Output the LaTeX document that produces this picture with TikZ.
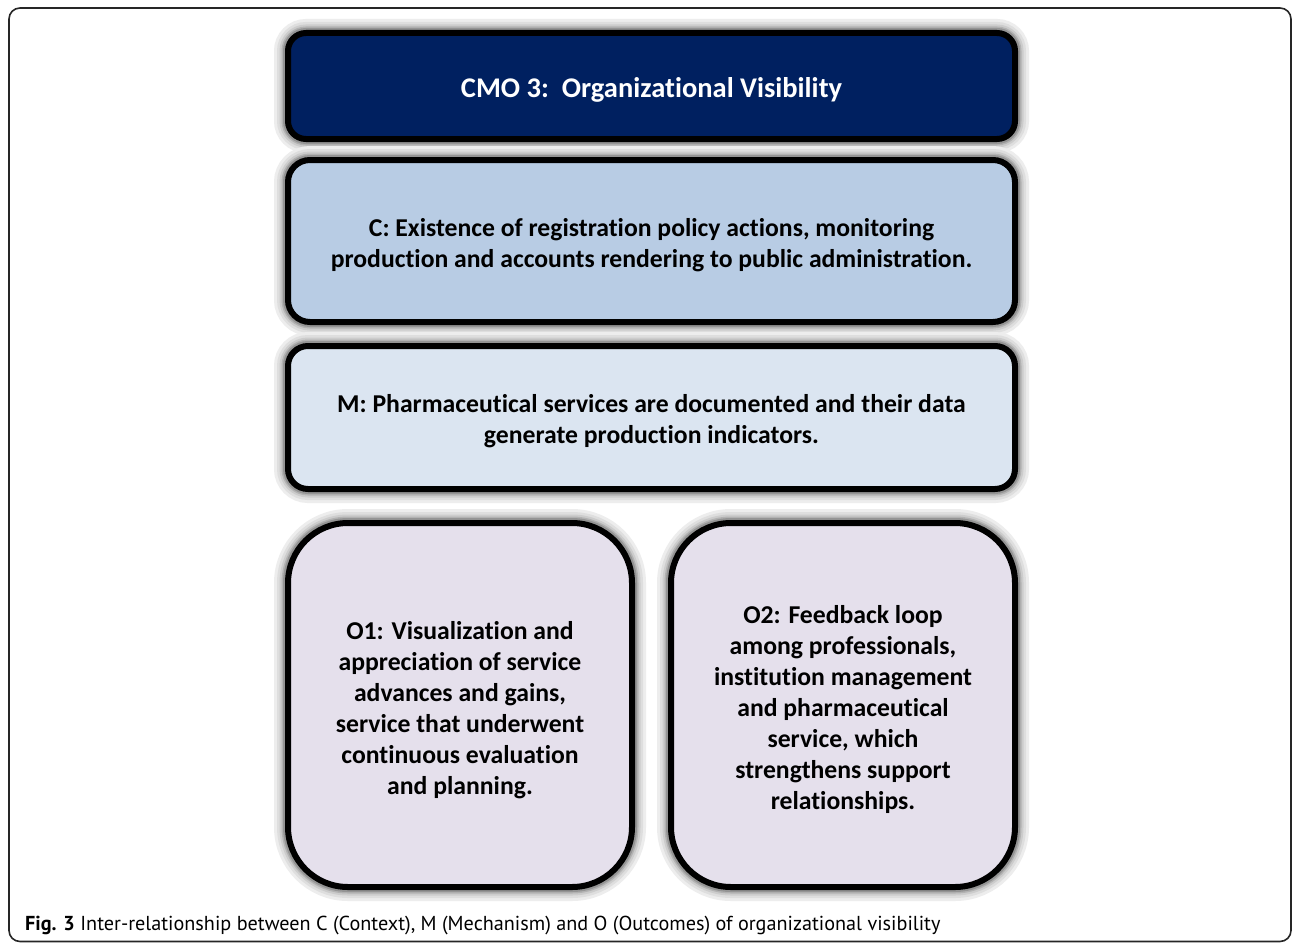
\documentclass[tikz,border=0pt]{standalone}
\usepackage{fontspec}
\setmainfont{Carlito}[Ligatures=NoCommon]
\newfontfamily\capfont{PT Sans}
\begin{document}
\begin{tikzpicture}[x=1pt,y=-1pt,
  glow/.style={
    preaction={draw=black!7,line width=28pt},
    preaction={draw=black!13,line width=22pt},
    preaction={draw=black!20,line width=17pt},
    preaction={draw=black!30,line width=13pt},
    preaction={draw=black!42,line width=10pt}},
  cmobox/.style={glow,draw=black,line width=6pt,rectangle,inner sep=0pt,outer sep=0pt},
  txt/.style={align=center,font=\bfseries\fontsize{25.7}{31}\selectfont,inner sep=0pt}]
\useasboundingbox (0,0) rectangle (1292,942);
\fill[white] (0,0) rectangle (1292,942);
\draw[line width=1.6pt,black!85,rounded corners=11pt] (9,8) -- (1291,8) -- (1291,941.5) -- (9,941.5) -- cycle;

\node[cmobox,fill={rgb,255:red,0;green,32;blue,96},rounded corners=18pt,minimum width=727pt,minimum height=106pt] (cmo) at (651.5,86) {};
\node[txt,text=white,font=\bfseries\fontsize{28.5}{34}\selectfont] (cmot) at ([yshift=-4pt]cmo.center) {CMO 3:\ \ Organizational\ Visibility};

\node[cmobox,fill={rgb,255:red,184;green,204;blue,228},rounded corners=22pt,minimum width=727pt,minimum height=162pt] (c) at (651.5,241) {};
\node[txt] (ct) at ([yshift=-4pt]c.center) {C: Existence of registration policy actions, monitoring\\production and accounts rendering to public administration.};

\node[cmobox,fill={rgb,255:red,219;green,229;blue,241},rounded corners=20pt,minimum width=727pt,minimum height=143pt] (m) at (651.5,417.5) {};
\node[txt] (mt) at ([yshift=-3.5pt]m.center) {M: Pharmaceutical services are documented and their data\\generate production indicators.};

\node[cmobox,fill={rgb,255:red,229;green,224;blue,236},rounded corners=60pt,minimum width=344pt,minimum height=364pt] (o1) at (460,705) {};
\node[txt] (o1t) at ([yshift=-5.5pt]o1.center) {O1: Visualization and\\appreciation of service\\advances and gains,\\service that underwent\\continuous evaluation\\and planning.};

\node[cmobox,fill={rgb,255:red,229;green,224;blue,236},rounded corners=60pt,minimum width=344pt,minimum height=364pt] (o2) at (843,705) {};
\node[txt] (o2t) at ([yshift=-4pt]o2.center) {O2: Feedback loop\\among professionals,\\institution management\\and pharmaceutical\\service, which\\strengthens support\\relationships.};

\node[anchor=base west,inner sep=0pt,font=\capfont\fontsize{20.2}{24}\selectfont] (cap) at (25,930) {\textbf{Fig. 3} Inter-relationship between C (Context), M (Mechanism) and O (Outcomes) of organizational visibility};
\end{tikzpicture}
\end{document}
